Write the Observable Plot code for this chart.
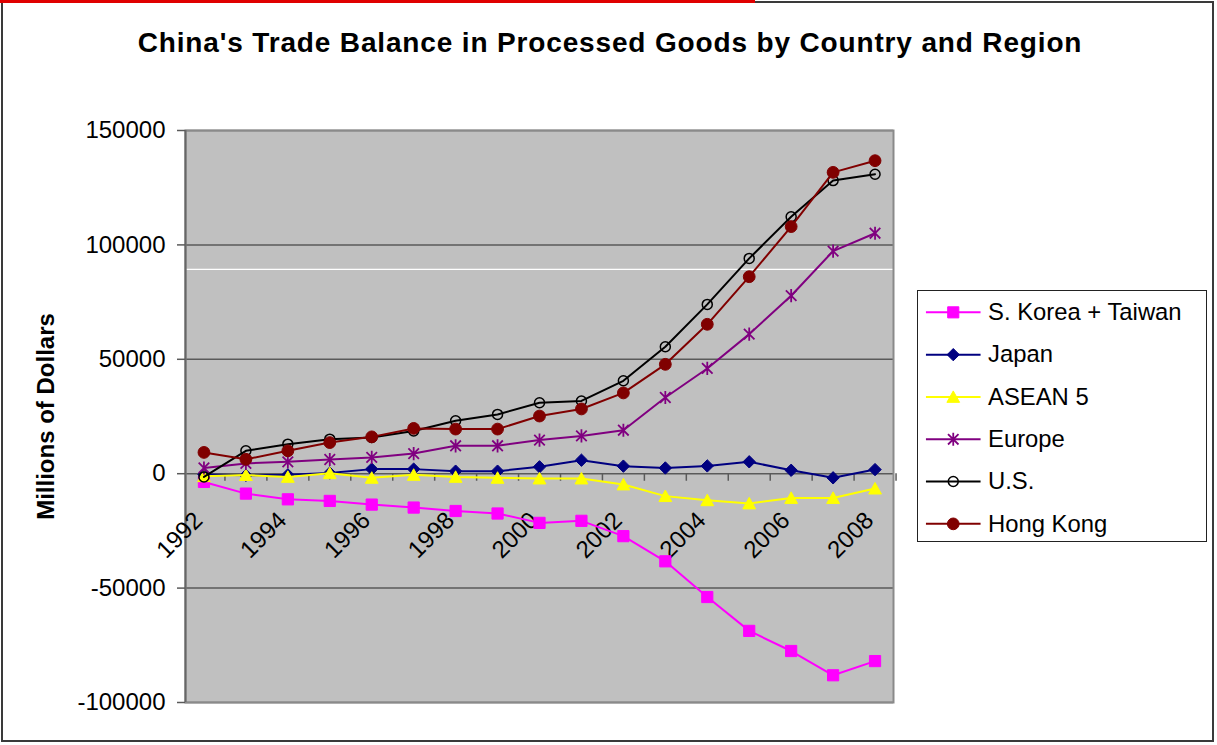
<!DOCTYPE html>
<html>
<head>
<meta charset="utf-8">
<script src="https://cdn.jsdelivr.net/npm/d3@7"></script>
<script src="https://cdn.jsdelivr.net/npm/@observablehq/plot@0.6"></script>
<style>
  body { margin: 0; background: #fff; }
  #chart { position: relative; width: 1217px; height: 745px; overflow: hidden; font-family: "Liberation Sans", Arial, sans-serif; background: #fff; }
  #outer { position: absolute; left: 1px; top: 1px; width: 1213px; height: 741px; box-sizing: border-box; border: 2px solid #3a3a3a; }
  #redline { position: absolute; left: 0; top: 0; width: 755px; height: 3px; background: #e00000; }
  #title { position: absolute; left: 0; top: 29px; width: 1220px; text-align: center; font-size: 28px; line-height: 28px; font-weight: bold; letter-spacing: 0.85px; color: #000; white-space: nowrap; }
  #plot { position: absolute; left: 0; top: 0; }
  #legend { position: absolute; left: 917px; top: 290px; width: 290px; height: 252px; box-sizing: border-box; border: 1.5px solid #222; background: #fff; }
  #legend svg { position: absolute; left: -1.5px; top: -1.5px; }
</style>
</head>
<body>
<div id="chart">
  <div id="plot"></div>
  <div id="outer"></div>
  <div id="redline"></div>
  <div id="title">China's Trade Balance in Processed Goods by Country and Region</div>
  <div id="legend"></div>
</div>
<script>
// ---- Data (millions of US dollars) ----
const years = [1992, 1993, 1994, 1995, 1996, 1997, 1998, 1999, 2000, 2001, 2002, 2003, 2004, 2005, 2006, 2007, 2008];
const labelYears = [1992, 1994, 1996, 1998, 2000, 2002, 2004, 2006, 2008];
const yTicks = [-100000, -50000, 0, 50000, 100000, 150000];
const seriesNames = ["S. Korea + Taiwan", "Japan", "ASEAN 5", "Europe", "U.S.", "Hong Kong"];

const koreaTaiwan = [-3600, -8700, -11200, -11900, -13500, -14800, -16300, -17400, -21500, -20600, -27300, -38300, -53900, -68700, -77500, -88100, -81900];
const japan       = [-300, -700, -500, 300, 2000, 2000, 1100, 1100, 3000, 5900, 3300, 2500, 3400, 5200, 1500, -1800, 1800];
const asean5      = [-1100, -600, -1400, 200, -1800, -500, -1400, -1800, -2100, -2100, -4700, -9800, -11600, -13000, -10600, -10600, -6500];
const europe      = [2500, 4500, 5200, 6200, 7100, 8800, 12200, 12200, 14700, 16500, 19000, 33300, 46000, 61000, 77800, 97300, 105100];
const us          = [-1400, 10000, 12900, 15100, 15800, 18700, 23100, 25900, 31000, 31800, 40600, 55500, 74000, 94100, 112300, 128100, 130900];
const hongKong    = [9300, 6300, 10000, 13600, 16100, 19800, 19500, 19500, 25200, 28300, 35300, 47800, 65300, 86100, 108000, 131700, 136800];

const whiteStreak = [89300]; // thin white line visible in the reference plot area

// ---- Marker shapes ----
const half = s => Math.sqrt(s / Math.PI);
const symSquare = { draw(c, s) { const r = half(s); c.rect(-r, -r, 2 * r, 2 * r); } };
const symDiamond = { draw(c, s) { const r = half(s); c.moveTo(0, -r); c.lineTo(r, 0); c.lineTo(0, r); c.lineTo(-r, 0); c.closePath(); } };
const symTriangle = { draw(c, s) { const r = half(s); c.moveTo(0, -r * 0.95); c.lineTo(r, r * 0.85); c.lineTo(-r, r * 0.85); c.closePath(); } };
const symAsterisk = { draw(c, s) { const r = half(s); const d = r * 0.8;
  c.moveTo(0, -r); c.lineTo(0, r); c.moveTo(-d, -d); c.lineTo(d, d); c.moveTo(-d, d); c.lineTo(d, -d); } };
const symCircle = { draw(c, s) { const r = half(s); c.moveTo(r, 0); c.arc(0, 0, r, 0, 2 * Math.PI); c.closePath(); } };

const series = [
  { name: seriesNames[0], values: koreaTaiwan, color: "#ff00ff", symbol: symSquare,   r: 5.6, fill: "#ff00ff", stroke: "#ff00ff", sw: 1 },
  { name: seriesNames[1], values: japan,       color: "#000080", symbol: symDiamond,  r: 6.2, fill: "#000080", stroke: "#000080", sw: 1 },
  { name: seriesNames[2], values: asean5,      color: "#ffff00", symbol: symTriangle, r: 6.4, fill: "#ffff00", stroke: "#ffff00", sw: 1 },
  { name: seriesNames[3], values: europe,      color: "#800080", symbol: symAsterisk, r: 6.6, fill: "none",    stroke: "#800080", sw: 1.8 },
  { name: seriesNames[4], values: us,          color: "#000000", symbol: symCircle,   r: 5,   fill: "none",    stroke: "#000000", sw: 1.5 },
  { name: seriesNames[5], values: hongKong,    color: "#800000", symbol: symCircle,   r: 5.9, fill: "#800000", stroke: "#800000", sw: 1 }
];

const font = "'Liberation Sans', Arial, sans-serif";

const seriesMarks = series.flatMap(s => {
  const rows = years.map((yr, i) => ({ year: yr, value: s.values[i] }));
  return [
    Plot.line(rows, { x: "year", y: "value", stroke: s.color, strokeWidth: 2 }),
    Plot.dot(rows, { x: "year", y: "value", symbol: s.symbol, r: s.r, fill: s.fill, stroke: s.stroke, strokeWidth: s.sw })
  ];
});

const chart = Plot.plot({
  width: 1217,
  height: 745,
  marginLeft: 185,
  marginRight: 324,
  marginTop: 130,
  marginBottom: 43,
  style: { fontFamily: font, fontSize: "24px", color: "#000", background: "transparent", overflow: "visible" },
  x: { type: "point", domain: years, padding: 0.44, round: false, axis: null },
  y: { domain: [-100000, 150000], axis: null },
  marks: [
    Plot.frame({ fill: "#c0c0c0", stroke: null }),
    Plot.ruleY(whiteStreak, { stroke: "#ffffff", strokeWidth: 1.2 }),
    Plot.ruleY(yTicks, { stroke: "#5a5a5a", strokeWidth: 1.5 }),
    Plot.frame({ stroke: "#8a8a8a", strokeWidth: 2 }),
    // left value axis line
    Plot.ruleX([years[0]], { y1: -100000, y2: 150000, dx: -18.5, stroke: "#666", strokeWidth: 2 }),
    // category tick marks between categories, hanging below the zero line
    Plot.ruleX(years, { x: d => d, y1: 0, y2: -3300, dx: 21, stroke: "#5a5a5a", strokeWidth: 1.5 }),
    Plot.axisY(yTicks, { tickSize: 8, tickPadding: 12, tickFormat: d => String(d), fontSize: 24, letterSpacing: 1, stroke: "#5a5a5a", strokeWidth: 1.5, label: null }),
    Plot.text(["Millions of Dollars"], { frameAnchor: "left", textAnchor: "middle", dx: -139, rotate: -90, fontWeight: "bold", fontSize: 24, letterSpacing: 1, fill: "#000" }),
    Plot.text(labelYears, { x: d => d, y: 0, text: d => String(d), rotate: -45, textAnchor: "end", lineAnchor: "bottom", dy: 48, fontSize: 24, letterSpacing: 1, fill: "#000" }),
    ...seriesMarks
  ]
});
document.getElementById("plot").appendChild(chart);

// ---- Legend ----
const legendMarks = series.flatMap(s => [
  Plot.ruleY([s.name], { y: d => d, x1: 9, x2: 64, stroke: s.color, strokeWidth: 2 }),
  Plot.dot([s.name], { x: 36, y: d => d, symbol: s.symbol, r: s.r, fill: s.fill, stroke: s.stroke, strokeWidth: s.sw })
]);
const legend = Plot.plot({
  width: 290,
  height: 252,
  margin: 0,
  style: { fontFamily: font, background: "transparent", overflow: "visible" },
  x: { domain: [0, 290], range: [0, 290], axis: null },
  y: { type: "point", domain: seriesNames, range: [22, 235], padding: 0, round: false, axis: null },
  marks: [
    ...legendMarks,
    Plot.text(seriesNames, { x: 71, y: d => d, text: d => d, textAnchor: "start", fontSize: 24, letterSpacing: 1.1, fill: "#000" })
  ]
});
document.getElementById("legend").appendChild(legend);
</script>
</body>
</html>
